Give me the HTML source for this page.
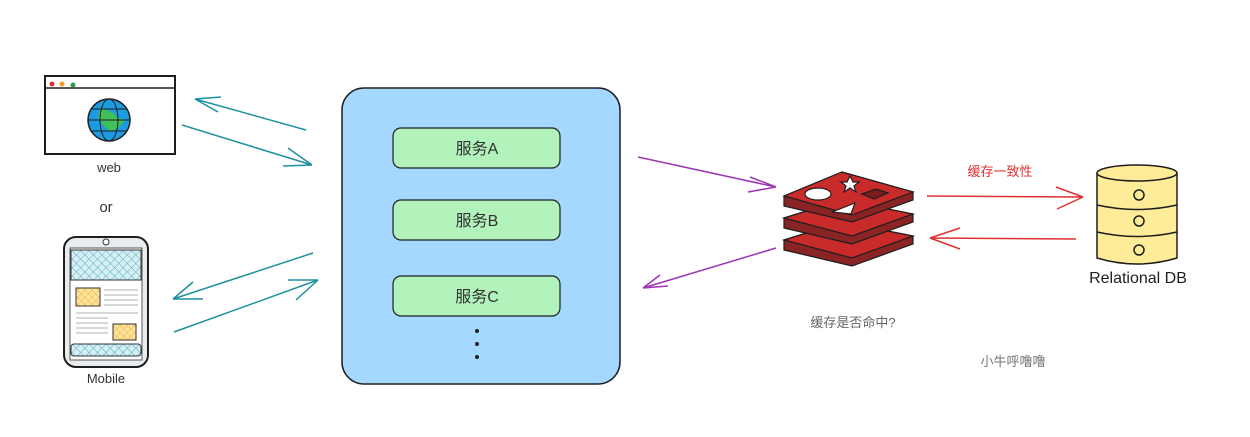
<!DOCTYPE html>
<html><head><meta charset="utf-8"><style>
html,body{margin:0;padding:0;background:#fff;width:1250px;height:437px;overflow:hidden}
text{font-family:"Liberation Sans","Noto Sans CJK SC",sans-serif}
</style></head><body>
<svg width="1250" height="437" viewBox="0 0 1250 437" xmlns="http://www.w3.org/2000/svg">
<defs>
<pattern id="hb" width="6" height="6" patternUnits="userSpaceOnUse" patternTransform="rotate(45)"><rect width="6" height="6" fill="#d8eef3"/><path d="M0 0H6M0 0V6" stroke="#4ab3c9" stroke-width="1"/></pattern>
<pattern id="ho" width="5" height="5" patternUnits="userSpaceOnUse" patternTransform="rotate(45)"><rect width="5" height="5" fill="#fde3a0"/><path d="M0 0H5M0 0V5" stroke="#f0b432" stroke-width="1"/></pattern>
</defs>
<!-- browser -->
<rect x="45" y="76" width="130" height="78" fill="#fff" stroke="#1e1e1e" stroke-width="2"/>
<line x1="45" y1="88" x2="175" y2="88" stroke="#1e1e1e" stroke-width="1.5"/>
<circle cx="52" cy="84" r="2.5" fill="#e03131"/><circle cx="62" cy="84" r="2.5" fill="#f0a020"/><circle cx="73" cy="85" r="2.5" fill="#2f9e44"/>
<circle cx="109" cy="120" r="21" fill="#1c9be0" stroke="#1e1e1e" stroke-width="1.5"/>
<path d="M100 108 L112 112 L118 118 L125 120 L118 128 L110 132 L104 126 L98 118Z" fill="#40c057"/>
<ellipse cx="109" cy="120" rx="9" ry="21" fill="none" stroke="#1e1e1e"/>
<line x1="88" y1="120" x2="130" y2="120" stroke="#1e1e1e"/><line x1="92" y1="109" x2="126" y2="109" stroke="#1e1e1e"/><line x1="92" y1="131" x2="126" y2="131" stroke="#1e1e1e"/>
<text x="109" y="172" font-size="13" text-anchor="middle" fill="#333">web</text>
<text x="106" y="212" font-size="15" text-anchor="middle" fill="#333">or</text>
<!-- phone -->
<rect x="64" y="237" width="84" height="130" rx="12" fill="#e9ecef" stroke="#1e1e1e" stroke-width="2"/>
<rect x="70" y="248" width="72" height="112" fill="#fff" stroke="#555"/>
<rect x="71" y="250" width="70" height="30" fill="url(#hb)" stroke="#333"/>
<rect x="76" y="288" width="24" height="18" fill="url(#ho)" stroke="#333"/>
<rect x="113" y="324" width="23" height="16" fill="url(#ho)" stroke="#333"/>
<rect x="71" y="344" width="70" height="12" rx="3" fill="url(#hb)" stroke="#333"/>
<g stroke="#999" stroke-width="0.8"><line x1="104" y1="290" x2="138" y2="290"/><line x1="104" y1="295" x2="138" y2="295"/><line x1="104" y1="300" x2="138" y2="300"/><line x1="104" y1="305" x2="138" y2="305"/><line x1="76" y1="313" x2="138" y2="313"/><line x1="76" y1="318" x2="108" y2="318"/><line x1="76" y1="323" x2="108" y2="323"/><line x1="76" y1="328" x2="108" y2="328"/><line x1="76" y1="333" x2="108" y2="333"/></g>
<circle cx="106" cy="242" r="3" fill="#fff" stroke="#333"/>
<text x="106" y="383" font-size="13" text-anchor="middle" fill="#333">Mobile</text>
<!-- teal arrows -->
<g stroke="#1e8fa0" stroke-width="1.5" fill="none">
<path d="M306 130 L195 99 M195 99 L221 97 M195 99 L218 112"/>
<path d="M182 125 L312 165 M312 165 L288 148 M312 165 L283 166"/>
<path d="M313 253 L173 299 M173 299 L193 282 M173 299 L203 299"/>
<path d="M174 332 L318 280 M318 280 L288 280 M318 280 L296 300"/>
</g>
<!-- services box -->
<rect x="342" y="88" width="278" height="296" rx="22" fill="#a5d8ff" stroke="#1e1e1e" stroke-width="1.5"/>
<g fill="#b2f2bb" stroke="#1e1e1e" stroke-width="1.2">
<rect x="393" y="128" width="167" height="40" rx="8"/>
<rect x="393" y="200" width="167" height="40" rx="8"/>
<rect x="393" y="276" width="167" height="40" rx="8"/>
</g>
<g font-size="16" fill="#333" text-anchor="middle"><text x="477" y="154">服务A</text><text x="477" y="226">服务B</text><text x="477" y="302">服务C</text></g>
<circle cx="477" cy="331" r="2" fill="#222"/><circle cx="477" cy="344" r="2" fill="#222"/><circle cx="477" cy="357" r="2" fill="#222"/>
<!-- purple arrows -->
<g stroke="#9c36b5" stroke-width="1.5" fill="none">
<path d="M638 157 L776 187 M776 187 L750 177 M776 187 L748 192"/>
<path d="M776 248 L643 288 M643 288 L660 275 M643 288 L668 286"/>
</g>
<!-- redis -->
<g stroke="#1e1e1e" stroke-width="1.2">
<path d="M784 240 L842 222 L913 236 L913 244 L852 266 L784 250Z" fill="#8a2424"/>
<path d="M784 240 L842 222 L913 236 L852 258Z" fill="#c92a2a"/>
<path d="M784 218 L842 200 L913 214 L913 222 L852 244 L784 228Z" fill="#8a2424"/>
<path d="M784 218 L842 200 L913 214 L852 236Z" fill="#c92a2a"/>
<path d="M784 196 L842 172 L913 192 L913 200 L852 222 L784 206Z" fill="#8a2424"/>
<path d="M784 196 L842 172 L913 192 L852 215Z" fill="#c92a2a"/>
<ellipse cx="818" cy="194" rx="13" ry="6" fill="#fff"/>
<path d="M850 176 L853 182 L859 182 L854 186 L856 192 L850 188 L844 192 L846 186 L841 182 L847 182Z" fill="#fff"/>
<path d="M832 212 L855 203 L851 214Z" fill="#fff"/>
<path d="M862 194 L876 189 L888 193 L874 199Z" fill="#7a1d1d"/>
</g>
<text x="853" y="327" font-size="13" text-anchor="middle" fill="#666">缓存是否命中?</text>
<!-- red arrows -->
<g stroke="#e03131" stroke-width="1.5" fill="none">
<path d="M927 196 L1083 197 M1083 197 L1056 187 M1083 197 L1057 209"/>
<path d="M1076 239 L930 238 M930 238 L960 228 M930 238 L960 249"/>
</g>
<text x="1000" y="176" font-size="13" text-anchor="middle" fill="#e03131">缓存一致性</text>
<!-- DB -->
<g stroke="#1e1e1e" stroke-width="1.5">
<path d="M1097 173 L1097 258 Q1137 270 1177 258 L1177 173" fill="#ffec99"/>
<ellipse cx="1137" cy="173" rx="40" ry="8" fill="#ffec99"/>
<path d="M1097 205 Q1137 214 1177 205 M1097 232 Q1137 241 1177 232" fill="none"/>
<circle cx="1139" cy="195" r="5" fill="none"/><circle cx="1139" cy="221" r="5" fill="none"/><circle cx="1139" cy="250" r="5" fill="none"/>
</g>
<text x="1138" y="283" font-size="16" text-anchor="middle" fill="#1e1e1e">Relational DB</text>
<text x="1013" y="366" font-size="13" text-anchor="middle" fill="#777">小牛呼噜噜</text>
</svg>
</body></html>
